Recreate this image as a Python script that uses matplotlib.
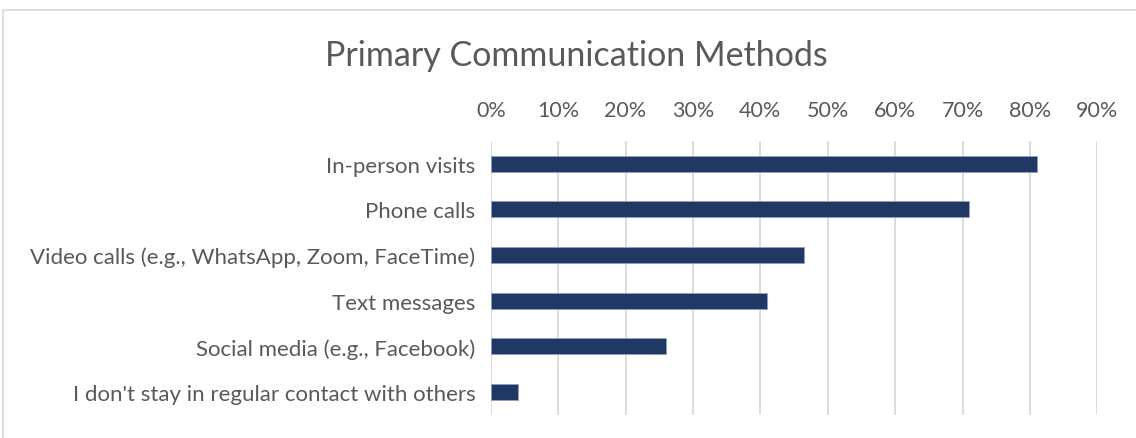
import matplotlib.pyplot as plt
from matplotlib.patches import Rectangle
from matplotlib.ticker import PercentFormatter

plt.rcParams['font.family'] = ['Lato', 'DejaVu Sans']

methods = [
    "In-person visits",
    "Phone calls",
    "Video calls (e.g., WhatsApp, Zoom, FaceTime)",
    "Text messages",
    "Social media (e.g., Facebook)",
    "I don't stay in regular contact with others",
]
shares = [81, 71, 46.5, 41, 26, 4]
ticks = [0, 10, 20, 30, 40, 50, 60, 70, 80, 90]

text_col = "#595959"
bar_col = "#203864"

fig = plt.figure(figsize=(11.36, 4.39), dpi=100)
ax = fig.add_axes([0.432, 0.053, 0.534, 0.624])

ypos = range(len(methods))
ax.barh(ypos, shares, height=0.35, color=bar_col, edgecolor="#8fa0bd", linewidth=0.6, zorder=3)
ax.set_yticks(list(ypos))
ax.set_yticklabels(methods, fontsize=16, color=text_col)
ax.set_ylim(len(methods) - 0.5, -0.5)

ax.set_xlim(0, 90)
ax.set_xticks(ticks)
ax.xaxis.set_major_formatter(PercentFormatter(decimals=0))
ax.xaxis.tick_top()
ax.tick_params(axis="x", labelsize=15.5, labelcolor=text_col, length=0, pad=15)
ax.tick_params(axis="y", length=0, pad=11)
ax.grid(axis="x", color="#d9d9d9", linewidth=1.3, zorder=0)
for s in ax.spines.values():
    s.set_visible(False)

fig.text(0.507, 0.872, "Primary Communication Methods", ha="center", va="center",
         fontsize=24.5, color=text_col)

# light frame around the chart area
fig.patches.append(Rectangle((3 / 1136, -0.05), 1.2, 0.05 + 1 - 11 / 439,
                             transform=fig.transFigure, fill=False,
                             edgecolor="#d9d9d9", linewidth=1.2))

fig.savefig("out.png", dpi=100)
